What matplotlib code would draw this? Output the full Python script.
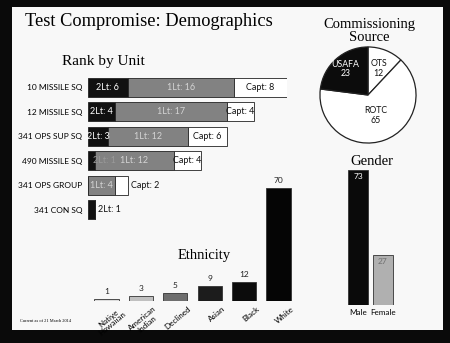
import matplotlib
matplotlib.use("Agg")
import matplotlib.pyplot as plt
import matplotlib.transforms as mtransforms
from matplotlib.patches import Rectangle
import numpy as np

# rank by unit (stacked: 2Lt, 1Lt, Capt)
units = ['10 MISSILE SQ', '12 MISSILE SQ', '341 OPS SUP SQ', '490 MISSILE SQ', '341 OPS GROUP', '341 CON SQ']
lt2 = [6, 4, 3, 1, 0, 1]
lt1 = [16, 17, 12, 12, 4, 0]
capt = [8, 4, 6, 4, 2, 0]

# commissioning source
sources = ['OTS', 'ROTC', 'USAFA']
source_counts = [12, 65, 23]

# gender
genders = ['Male', 'Female']
gender_pct = [73, 27]

# ethnicity
ethnic = ['Native\nHawaiian', 'American\nIndian', 'Declined', 'Asian', 'Black', 'White']
ethnic_counts = [1, 3, 5, 9, 12, 70]

W, H = 450, 343
SANS = ['Lato', 'DejaVu Sans']
SERIF = ['Liberation Serif', 'DejaVu Serif']


def box(x0, y0, x1, y1):
    # pixel box (top-left origin) -> figure fraction rect
    return [x0 / W, 1 - y1 / H, (x1 - x0) / W, (y1 - y0) / H]


fig = plt.figure(figsize=(4.5, 3.43), dpi=100, facecolor='#0a0a0a')
fig.patches.append(Rectangle((12 / W, 1 - 330 / H), 431 / W, 323 / H,
                             transform=fig.transFigure, facecolor='#f8f8f8',
                             edgecolor='none', zorder=-5))

fig.text(25 / W, 1 - 22 / H, 'Test Compromise: Demographics', family=SERIF,
         fontsize=13.2, va='center', ha='left')
fig.text(103 / W, 1 - 62 / H, 'Rank by Unit', family=SERIF, fontsize=11,
         va='center', ha='center')
fig.text(369 / W, 1 - 31 / H, 'Commissioning\nSource', family=SERIF,
         fontsize=10.5, va='center', ha='center', linespacing=1.05)
fig.text(372 / W, 1 - 162 / H, 'Gender', family=SERIF, fontsize=10.5,
         va='center', ha='center')
fig.text(204 / W, 1 - 255 / H, 'Ethnicity', family=SERIF, fontsize=10.5,
         va='center', ha='center')
fig.text(20 / W, 1 - 321 / H, 'Current as of 21 March 2014', family=SERIF,
         fontsize=3.2, va='center', ha='left')

# ---- rank by unit ----
ax = fig.add_axes(box(88, 75, 287, 222))
ax.patch.set_alpha(0)
y = np.arange(len(units))
seg_colors = ['#111111', '#828282', '#ffffff']
txt_colors = ['#ffffff', '#d4d4d4', '#111111']
names = ['2Lt', '1Lt', 'Capt']
left = np.zeros(len(units))
for k, vals in enumerate([lt2, lt1, capt]):
    vals = np.array(vals, dtype=float)
    ax.barh(y, vals, left=left, height=0.76, color=seg_colors[k],
            edgecolor='#222222', linewidth=0.6)
    for i, v in enumerate(vals):
        if v == 0:
            continue
        rest = sum([lt2, lt1, capt][j][i] for j in range(k + 1, 3))
        if rest == 0 and v <= 2:
            # too small to hold its label: write it just past the bar end
            ax.text(left[i] + v + 0.5, i, f'{names[k]}: {int(v)}', ha='left',
                    va='center', fontsize=6.5, family=SANS, color='#111111')
        else:
            cx = left[i] + v / 2
            col = txt_colors[k]
            if v < 2:
                cx = left[i] + 2.5
                col = '#9a9a9a'
            ax.text(cx, i, f'{names[k]}: {int(v)}', ha='center', va='center',
                    fontsize=6.5, family=SANS, color=col)
    left += vals
ax.set_xlim(0, 30)
ax.set_ylim(5.5, -0.5)
ax.set_yticks(y)
ax.set_yticklabels(units, family=SANS, fontsize=6.0)
ax.tick_params(axis='y', length=0, pad=4)
ax.set_xticks([])
for s in ax.spines.values():
    s.set_visible(False)

# ---- commissioning source pie ----
axp = fig.add_axes(box(319, 46, 417, 144))
wedges, _ = axp.pie(source_counts, colors=['#ffffff', '#ffffff', '#0c0c0c'],
                    startangle=90, counterclock=False,
                    wedgeprops=dict(edgecolor='#222222', linewidth=0.9))
dist = [0.6, 0.45, 0.72]
lab_colors = ['#111111', '#111111', '#ffffff']
for w, name, n, r, c in zip(wedges, sources, source_counts, dist, lab_colors):
    ang = np.deg2rad((w.theta1 + w.theta2) / 2)
    axp.text(r * np.cos(ang), r * np.sin(ang), f'{name}\n{n}', ha='center',
             va='center', fontsize=6.3, family=SANS, color=c, linespacing=1.1)
axp.set_xlim(-1.02, 1.02)
axp.set_ylim(-1.02, 1.02)

# ---- gender ----
axg = fig.add_axes(box(345.5, 157, 395.5, 305))
axg.patch.set_alpha(0)
xg = np.arange(len(genders))
axg.bar(xg, gender_pct, width=0.8, color=['#0a0a0a', '#b0b0b0'],
        edgecolor='#333333', linewidth=0.6)
for i, v in enumerate(gender_pct):
    axg.text(i, v - 1.5, str(v), ha='center', va='top', fontsize=6,
             family=SANS, color=['#ffffff', '#707070'][i])
axg.set_xlim(-0.5, 1.5)
axg.set_ylim(0, 80)
axg.set_xticks(xg)
axg.set_xticklabels(genders, family=SANS, fontsize=5.8)
axg.tick_params(axis='x', length=0, pad=3)
axg.set_yticks([])
for s in axg.spines.values():
    s.set_visible(False)

# ---- ethnicity ----
axe = fig.add_axes(box(89.3, 171.4, 295.7, 301))
axe.patch.set_alpha(0)
xe = np.arange(len(ethnic))
axe.bar(xe, ethnic_counts, width=0.7,
        color=['#dcdcdc', '#c0c0c0', '#6e6e6e', '#1c1c1c', '#0c0c0c', '#050505'],
        edgecolor='#333333', linewidth=0.6)
for i, v in enumerate(ethnic_counts):
    axe.text(i, v + 2.5, str(v), ha='center', va='bottom', fontsize=6,
             family=SANS, color='#222222')
axe.set_xlim(-0.5, 5.5)
axe.set_ylim(0, 80)
# slanted category names, nudged right so they hang under each bar
lab_tr = axe.get_xaxis_transform() + mtransforms.ScaledTranslation(
    12 / 100, -4 / 100, fig.dpi_scale_trans)
for i, name in enumerate(ethnic):
    axe.text(i, 0, name, transform=lab_tr, family=SANS, fontsize=5.8,
             rotation=40, ha='right', va='top', rotation_mode='anchor',
             multialignment='center', linespacing=0.95, clip_on=False)
axe.set_xticks([])
axe.set_yticks([])
for s in axe.spines.values():
    s.set_visible(False)

fig.savefig('out.png', dpi=100, facecolor=fig.get_facecolor())
